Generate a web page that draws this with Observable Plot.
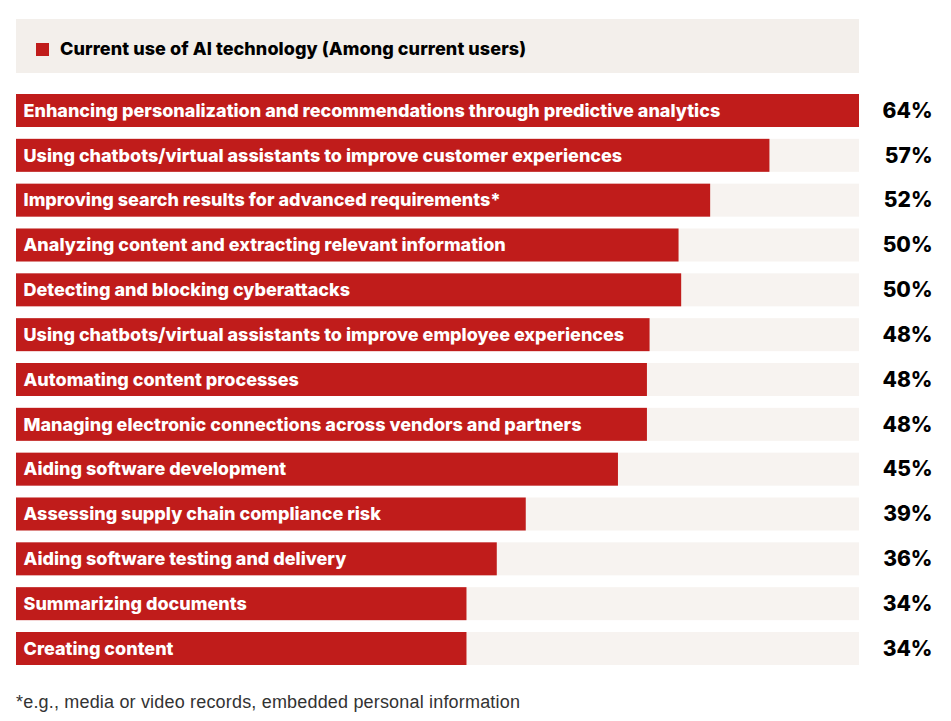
<!DOCTYPE html>
<html>
<head>
<meta charset="utf-8">
<script src="https://cdn.jsdelivr.net/npm/d3@7"></script>
<script src="https://cdn.jsdelivr.net/npm/@observablehq/plot@0.6"></script>
<style>
  html, body { margin: 0; padding: 0; background: #fff; }
  #wrap { position: relative; width: 951px; height: 721px; overflow: hidden; }
  #legend { position: absolute; left: 16px; top: 19px; width: 843px; height: 54px; background: #f3efeb; }
  #legend .sw { position: absolute; left: 20px; top: 24px; width: 13px; height: 13px; background: #c01c1b; }
  #legend .lt { position: absolute; left: 44px; top: 19px; font: 800 18px Inter, sans-serif; letter-spacing: 0.08px; color: #000; white-space: nowrap; }
  #chart { position: absolute; left: 0; top: 84px; }
  #note { position: absolute; left: 16px; top: 692px; font: 400 18px "Liberation Sans", Arial, sans-serif; letter-spacing: 0.18px; color: #333; white-space: nowrap; }
</style>
</head>
<body>
<div id="wrap">
  <div id="legend"><div class="sw"></div><div class="lt"></div></div>
  <div id="chart"></div>
  <div id="note"></div>
</div>
<script>
const legendTitle = "Current use of AI technology (Among current users)";
const footnote = "*e.g., media or video records, embedded personal information";

const categories = [
  "Enhancing personalization and recommendations through predictive analytics",
  "Using chatbots/virtual assistants to improve customer experiences",
  "Improving search results for advanced requirements*",
  "Analyzing content and extracting relevant information",
  "Detecting and blocking cyberattacks",
  "Using chatbots/virtual assistants to improve employee experiences",
  "Automating content processes",
  "Managing electronic connections across vendors and partners",
  "Aiding software development",
  "Assessing supply chain compliance risk",
  "Aiding software testing and delivery",
  "Summarizing documents",
  "Creating content"
];
// bar lengths as drawn (percent)
const shares = [64, 57.2, 52.7, 50.3, 50.5, 48.1, 47.9, 47.9, 45.7, 38.7, 36.5, 34.2, 34.2];
// printed labels
const shareLabels = ["64%", "57%", "52%", "50%", "50%", "48%", "48%", "48%", "45%", "39%", "36%", "34%", "34%"];

const data = categories.map((c, i) => ({cat: c, v: shares[i], label: shareLabels[i]}));
const maxV = d3.max(shares);

document.querySelector("#legend .lt").textContent = legendTitle;
document.getElementById("note").textContent = footnote;

const chart = Plot.plot({
  width: 951,
  height: 591,
  marginLeft: 16,
  marginRight: 92,
  marginTop: 10,
  marginBottom: 10,
  x: {domain: [0, maxV], axis: null},
  y: {domain: categories, axis: null, paddingInner: 0.264, paddingOuter: 0, round: false},
  style: {background: "transparent"},
  marks: [
    Plot.barX(data, {y: "cat", x1: 0, x2: () => maxV, fill: "#f7f3f0"}),
    Plot.barX(data, {y: "cat", x: "v", fill: "#c01c1b"}),
    Plot.text(data, {y: "cat", x: 0, text: "cat", textAnchor: "start", dx: 7, fill: "#fff",
      fontSize: 18, fontWeight: 800, fontFamily: "Inter, sans-serif"}),
    Plot.text(data, {y: "cat", x: () => maxV, text: "label", textAnchor: "end", dx: 73, fill: "#000",
      fontSize: 21, fontWeight: 800, fontFamily: "Inter, sans-serif"})
  ]
});
document.getElementById("chart").appendChild(chart);
</script>
</body>
</html>
